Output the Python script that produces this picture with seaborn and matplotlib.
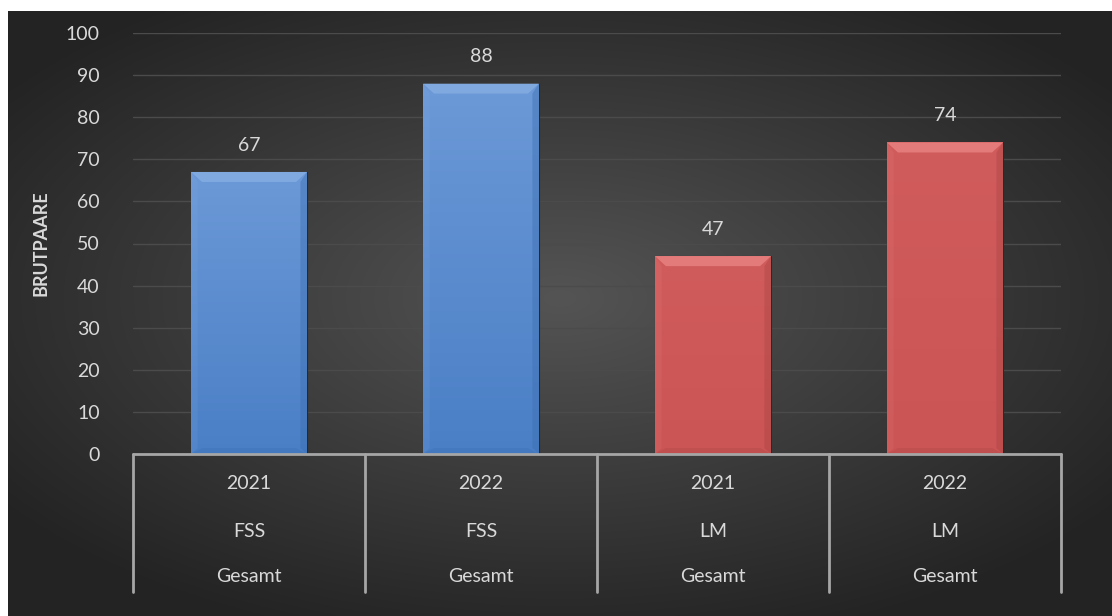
import numpy as np
import pandas as pd
import matplotlib
matplotlib.use("Agg")
import matplotlib.pyplot as plt
from matplotlib.patches import Polygon
from matplotlib.colors import to_rgb
from matplotlib.transforms import blended_transform_factory
import seaborn as sns

# data
years = ["2021", "2022", "2021", "2022"]
groups = ["FSS", "FSS", "LM", "LM"]
totals = ["Gesamt", "Gesamt", "Gesamt", "Gesamt"]
brutpaare = [67, 88, 47, 74]

sns.set_theme(style="dark")
plt.rcParams['font.family'] = ['Lato', 'DejaVu Sans']

df = pd.DataFrame({
    "cat": [f"{y}-{g}" for y, g in zip(years, groups)],
    "group": groups,
    "value": brutpaare,
})

W, H = 1112, 616
fig = plt.figure(figsize=(W / 100, H / 100), dpi=100)
fig.patch.set_facecolor("white")

# radial background
bg = fig.add_axes([8 / W, 0, 1 - 8 / W, 1 - 11 / H])
bg.set_axis_off()
yy, xx = np.mgrid[-1:1:300j, -1:1:500j]
r = np.sqrt((xx * 0.85) ** 2 + ((yy + 0.05) * 0.9) ** 2)
shade = np.clip(0.33 - 0.18 * r, 0.14, 0.33)
bg.imshow(np.dstack([shade] * 3), aspect="auto", extent=[0, 1, 0, 1], interpolation="bilinear")

ax = fig.add_axes([133 / W, 1 - 454 / H, (1061 - 133) / W, (454 - 33) / H])
ax.patch.set_alpha(0)

palette = {"FSS": "#5689d0", "LM": "#cd5757"}
sns.barplot(data=df, x="cat", y="value", hue="group", palette=palette,
            dodge=False, width=0.5, legend=False, ax=ax, saturation=1,
            edgecolor="#2a2a2a", linewidth=0.8, zorder=3)

ax.set_ylim(0, 100)
ax.set_xlim(-0.5, len(brutpaare) - 0.5)
ax.set_yticks(range(0, 101, 10))
ax.yaxis.grid(True, color="#4b4b4b", linewidth=1.0, zorder=0)
ax.xaxis.grid(False)
ax.tick_params(axis="y", colors="#d9d9d9", labelsize=14, length=0, pad=24)
ax.set_xticks([])
ax.set_xlabel("")
ax.set_ylabel("BRUTPAARE", color="#d9d9d9", fontsize=13, fontweight="bold")
ax.yaxis.set_label_coords(-0.09, 0.5)
for s in ax.spines.values():
    s.set_visible(False)

# gradient fill + bevel on bars
grad_top = {"FSS": "#6c99d7", "LM": "#d15c5c"}
grad_bot = {"FSS": "#4a7fc6", "LM": "#cb5454"}
px_x = 1.0 / 232.0 * 11
px_y = 100.0 / 421.0 * 10
light = {"FSS": "#8fb5e8", "LM": "#f29292"}
dark = {"FSS": "#3a6cb0", "LM": "#a84444"}
for p, g in zip(ax.patches, groups):
    x0, w, h = p.get_x(), p.get_width(), p.get_height()
    x1 = x0 + w
    t = np.linspace(1, 0, 100)[:, None, None]
    img = t * np.array(to_rgb(grad_top[g])) + (1 - t) * np.array(to_rgb(grad_bot[g]))
    im = ax.imshow(np.repeat(img, 2, axis=1), extent=[x0, x1, 0, h], aspect="auto",
                   interpolation="bilinear", zorder=3.2)
    im.set_clip_path(p)
    bx, by = px_x, min(px_y, h / 2)
    ax.add_patch(Polygon([(x0, h), (x1, h), (x1 - bx, h - by), (x0 + bx, h - by)],
                         closed=True, color=light[g], alpha=0.6, lw=0, zorder=4))
    ax.add_patch(Polygon([(x0, 0), (x1, 0), (x1 - bx, by * 0.6), (x0 + bx, by * 0.6)],
                         closed=True, color=dark[g], alpha=0.3, lw=0, zorder=4))
    ax.add_patch(Polygon([(x1, 0), (x1, h), (x1 - bx * 0.6, h - by), (x1 - bx * 0.6, by * 0.6)],
                         closed=True, color=dark[g], alpha=0.4, lw=0, zorder=4))
    ax.add_patch(Polygon([(x0, 0), (x0, h), (x0 + bx * 0.6, h - by), (x0 + bx * 0.6, by * 0.6)],
                         closed=True, color=light[g], alpha=0.12, lw=0, zorder=4))
    ax.text(p.get_x() + w / 2, h + 4.3, f"{h:.0f}", ha="center", va="bottom",
            color="#d9d9d9", fontsize=14, zorder=5)

# multi-level category axis
tr = blended_transform_factory(ax.transData, ax.transAxes)
n = len(brutpaare)
line_kw = dict(color="#a6a6a6", lw=2, transform=tr, clip_on=False, zorder=6)
ax.plot([-0.5, n - 0.5], [0, 0], **line_kw)
for i in range(n + 1):
    ax.plot([i - 0.5, i - 0.5], [0, -0.328], **line_kw)
for i in range(n):
    for row, lab in zip([-0.071, -0.183, -0.292], [years[i], groups[i], totals[i]]):
        ax.text(i, row, lab, transform=tr, ha="center", va="center",
                color="#d9d9d9", fontsize=14)

ax.set_xlim(-0.5, n - 0.5)
ax.set_ylim(0, 100)
fig.savefig("out.png", dpi=100, facecolor=fig.get_facecolor())
